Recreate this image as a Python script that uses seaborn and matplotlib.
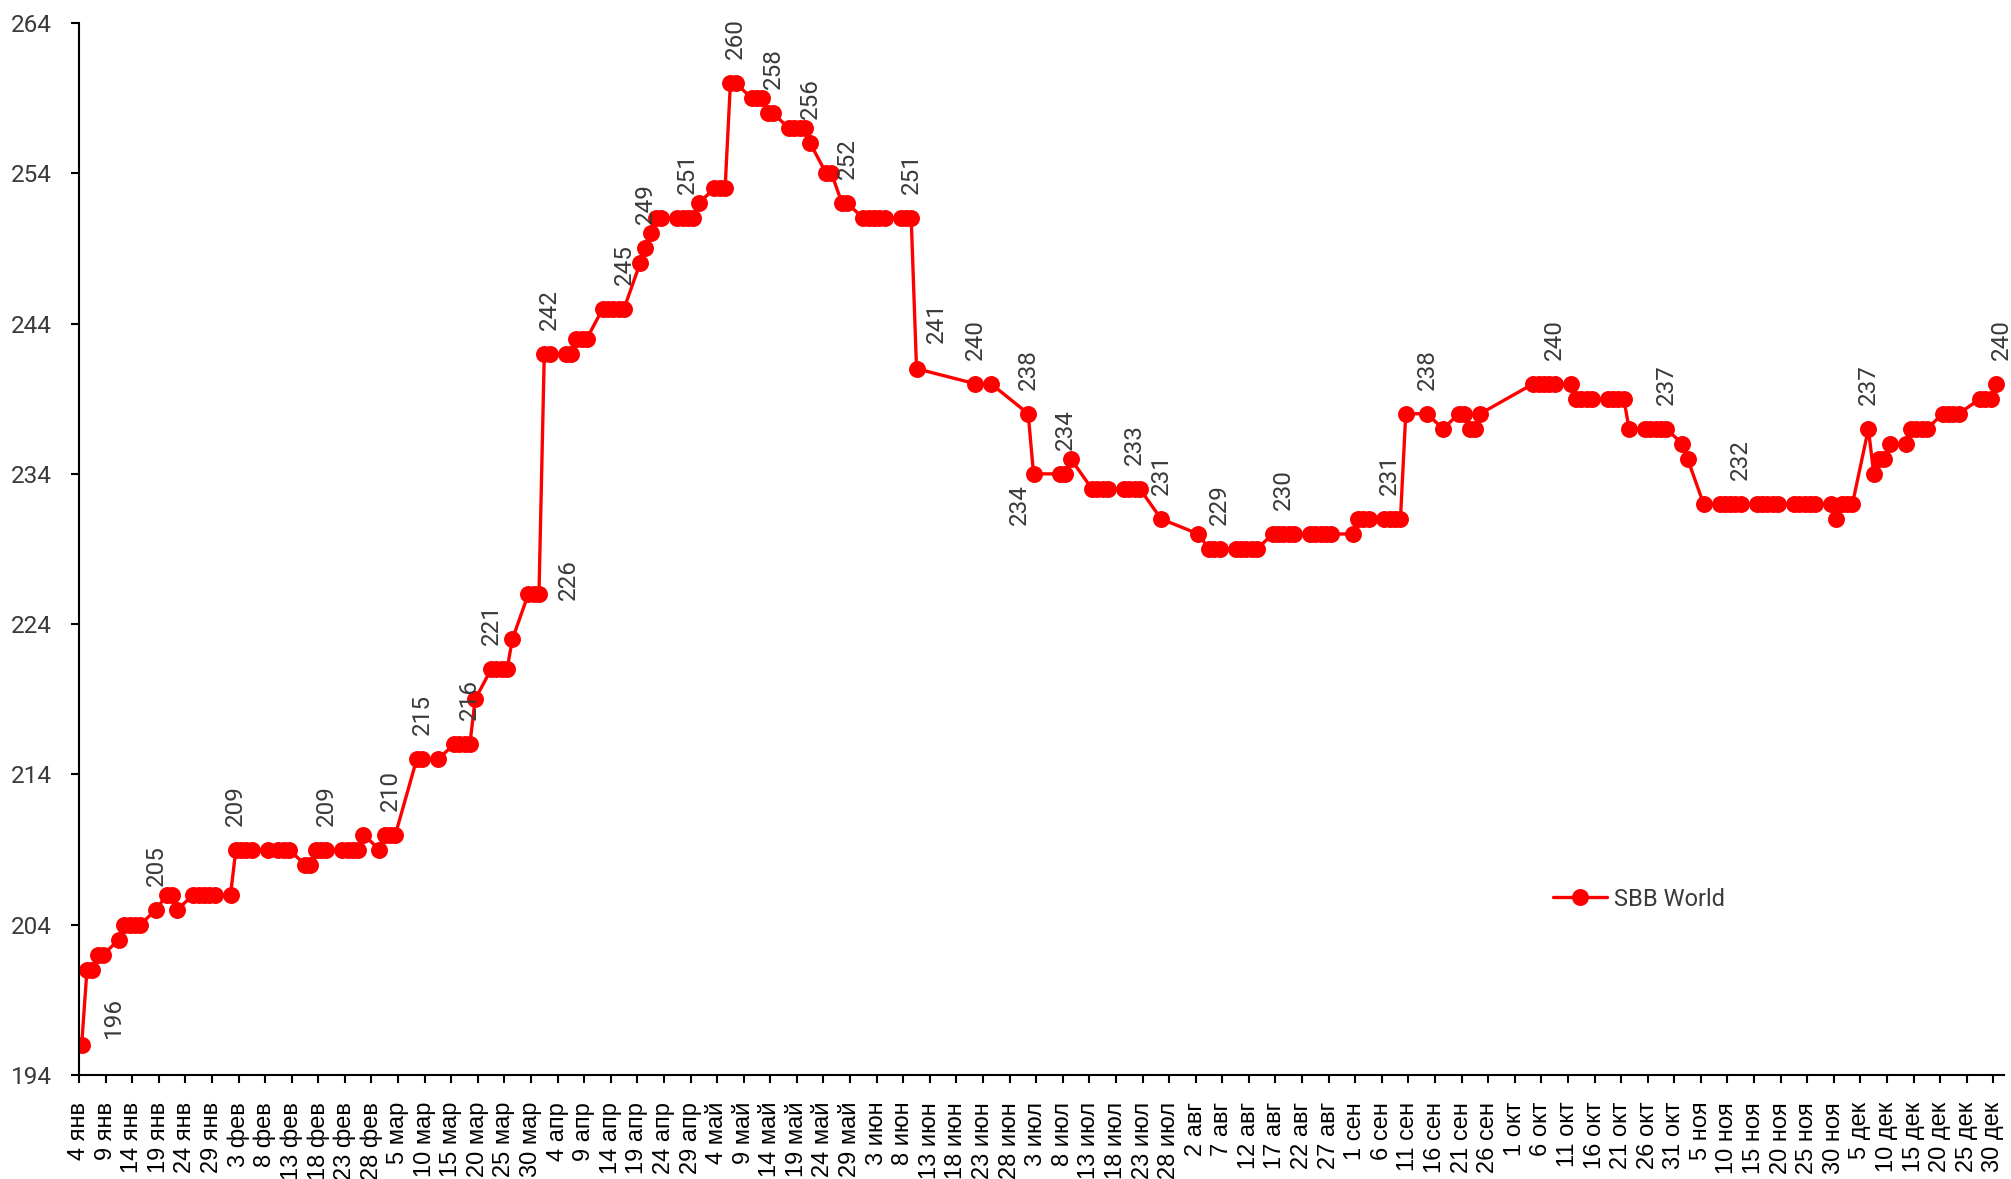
import pandas as pd
import matplotlib
matplotlib.use("Agg")
import matplotlib.pyplot as plt
import seaborn as sns

# ---------------- data ----------------
dates = [
    "2010-01-04", "2010-01-05", "2010-01-06", "2010-01-07", "2010-01-08", "2010-01-11", "2010-01-12",
    "2010-01-13", "2010-01-14", "2010-01-15", "2010-01-18", "2010-01-20", "2010-01-21", "2010-01-22",
    "2010-01-25", "2010-01-26", "2010-01-27", "2010-01-28", "2010-01-29", "2010-02-01", "2010-02-02",
    "2010-02-03", "2010-02-04", "2010-02-05", "2010-02-08", "2010-02-10", "2010-02-11", "2010-02-12",
    "2010-02-15", "2010-02-16", "2010-02-17", "2010-02-18", "2010-02-19", "2010-02-22", "2010-02-23",
    "2010-02-24", "2010-02-25", "2010-02-26", "2010-03-01", "2010-03-02", "2010-03-03", "2010-03-04",
    "2010-03-08", "2010-03-09", "2010-03-12", "2010-03-15", "2010-03-16", "2010-03-17", "2010-03-18",
    "2010-03-19", "2010-03-22", "2010-03-23", "2010-03-24", "2010-03-25", "2010-03-26", "2010-03-29",
    "2010-03-30", "2010-03-31", "2010-04-01", "2010-04-02", "2010-04-05", "2010-04-06", "2010-04-07",
    "2010-04-08", "2010-04-09", "2010-04-12", "2010-04-13", "2010-04-14", "2010-04-15", "2010-04-16",
    "2010-04-19", "2010-04-20", "2010-04-21", "2010-04-22", "2010-04-23", "2010-04-26", "2010-04-27",
    "2010-04-28", "2010-04-29", "2010-04-30", "2010-05-03", "2010-05-04", "2010-05-05", "2010-05-06",
    "2010-05-07", "2010-05-10", "2010-05-11", "2010-05-12", "2010-05-13", "2010-05-14", "2010-05-17",
    "2010-05-18", "2010-05-19", "2010-05-20", "2010-05-21", "2010-05-24", "2010-05-25", "2010-05-27",
    "2010-05-28", "2010-05-31", "2010-06-01", "2010-06-02", "2010-06-03", "2010-06-04", "2010-06-07",
    "2010-06-08", "2010-06-09", "2010-06-10", "2010-06-21", "2010-06-24", "2010-07-01", "2010-07-02",
    "2010-07-07", "2010-07-08", "2010-07-09", "2010-07-13", "2010-07-14", "2010-07-15", "2010-07-16",
    "2010-07-19", "2010-07-20", "2010-07-21", "2010-07-22", "2010-07-26", "2010-08-02", "2010-08-04",
    "2010-08-05", "2010-08-06", "2010-08-09", "2010-08-10", "2010-08-11", "2010-08-12", "2010-08-13",
    "2010-08-16", "2010-08-17", "2010-08-18", "2010-08-19", "2010-08-20", "2010-08-23", "2010-08-24",
    "2010-08-25", "2010-08-26", "2010-08-27", "2010-08-31", "2010-09-01", "2010-09-02", "2010-09-03",
    "2010-09-06", "2010-09-07", "2010-09-08", "2010-09-09", "2010-09-10", "2010-09-14", "2010-09-17",
    "2010-09-20", "2010-09-21", "2010-09-22", "2010-09-23", "2010-09-24", "2010-10-04", "2010-10-05",
    "2010-10-06", "2010-10-07", "2010-10-08", "2010-10-11", "2010-10-12", "2010-10-13", "2010-10-14",
    "2010-10-15", "2010-10-18", "2010-10-19", "2010-10-20", "2010-10-21", "2010-10-22", "2010-10-25",
    "2010-10-26", "2010-10-27", "2010-10-28", "2010-10-29", "2010-11-01", "2010-11-02", "2010-11-05",
    "2010-11-08", "2010-11-09", "2010-11-10", "2010-11-11", "2010-11-12", "2010-11-15", "2010-11-16",
    "2010-11-17", "2010-11-18", "2010-11-19", "2010-11-22", "2010-11-23", "2010-11-24", "2010-11-25",
    "2010-11-26", "2010-11-29", "2010-11-30", "2010-12-01", "2010-12-02", "2010-12-03", "2010-12-06",
    "2010-12-07", "2010-12-08", "2010-12-09", "2010-12-10", "2010-12-13", "2010-12-14", "2010-12-15",
    "2010-12-16", "2010-12-17", "2010-12-20", "2010-12-21", "2010-12-22", "2010-12-23", "2010-12-27",
    "2010-12-28", "2010-12-29", "2010-12-30",
]
values = [
    196, 201, 201, 202, 202, 203, 204,
    204, 204, 204, 205, 206, 206, 205,
    206, 206, 206, 206, 206, 206, 209,
    209, 209, 209, 209, 209, 209, 209,
    208, 208, 209, 209, 209, 209, 209,
    209, 209, 210, 209, 210, 210, 210,
    215, 215, 215, 216, 216, 216, 216,
    219, 221, 221, 221, 221, 223, 226,
    226, 226, 242, 242, 242, 242, 243,
    243, 243, 245, 245, 245, 245, 245,
    248, 249, 250, 251, 251, 251, 251,
    251, 251, 252, 253, 253, 253, 260,
    260, 259, 259, 259, 258, 258, 257,
    257, 257, 257, 256, 254, 254, 252,
    252, 251, 251, 251, 251, 251, 251,
    251, 251, 241, 240, 240, 238, 234,
    234, 234, 235, 233, 233, 233, 233,
    233, 233, 233, 233, 231, 230, 229,
    229, 229, 229, 229, 229, 229, 229,
    230, 230, 230, 230, 230, 230, 230,
    230, 230, 230, 230, 231, 231, 231,
    231, 231, 231, 231, 238, 238, 237,
    238, 238, 237, 237, 238, 240, 240,
    240, 240, 240, 240, 239, 239, 239,
    239, 239, 239, 239, 239, 237, 237,
    237, 237, 237, 237, 236, 235, 232,
    232, 232, 232, 232, 232, 232, 232,
    232, 232, 232, 232, 232, 232, 232,
    232, 232, 231, 232, 232, 232, 237,
    234, 235, 235, 236, 236, 237, 237,
    237, 237, 238, 238, 238, 238, 239,
    239, 239, 240,
]
series_name = "SBB World"

# dates that carry a value label
label_dates = [
    "2010-01-04", "2010-01-18", "2010-02-02", "2010-02-19", "2010-03-03", "2010-03-09", "2010-03-18",
    "2010-03-22", "2010-03-31", "2010-04-02", "2010-04-16", "2010-04-20", "2010-04-28", "2010-05-07",
    "2010-05-14", "2010-05-21", "2010-05-28", "2010-06-09", "2010-06-10", "2010-06-21", "2010-07-01",
    "2010-07-02", "2010-07-08", "2010-07-21", "2010-07-26", "2010-08-06", "2010-08-18", "2010-09-07",
    "2010-09-14", "2010-10-08", "2010-10-29", "2010-11-12", "2010-12-06", "2010-12-30",
]

ru_months = ["янв", "фев", "мар", "апр", "май", "июн", "июл", "авг", "сен", "окт", "ноя", "дек"]
tick_start, tick_end, tick_step = "2010-01-04", "2010-12-30", "5D"
y_ticks = [194, 204, 214, 224, 234, 244, 254, 264]

# ---------------- style ----------------
# label placement tweaks (pixels): default is centred just above the point
label_special = {
    "2010-01-04": (32, 7, "bottom"),
    "2010-03-31": (29, -6, "bottom"),
    "2010-06-10": (20, 26, "bottom"),
    "2010-07-02": (-14, -10, "top"),
    "2010-12-30": (5, 24, "bottom"),
}
label_default = (0, 24, "bottom")

RED = "#FF0000"
GREY = "#3A3A3A"
LABEL_FONT = ["Roboto", "DejaVu Sans"]

sns.set_theme(style="white")
plt.rcParams["font.family"] = ["Liberation Sans", "DejaVu Sans"]

df = pd.DataFrame({"date": pd.to_datetime(dates), "value": values})
# the category-style date axis puts each point in the middle of its day
df["xpos"] = df["date"] + pd.Timedelta(hours=12)

fig = plt.figure(figsize=(20.11, 11.79), dpi=100)
ax = fig.add_axes([0.03928, 0.08821, 0.99652 - 0.03928, 0.98049 - 0.08821])

sns.lineplot(data=df, x="xpos", y="value", ax=ax, color=RED, linewidth=2.4,
             marker="o", markersize=12.2, markeredgewidth=0, markeredgecolor=RED,
             estimator=None, sort=True, label=series_name)

ax.set_xlim(pd.Timestamp("2010-01-04"), pd.Timestamp("2011-01-01"))
ax.set_ylim(194, 264)
ax.set_xlabel("")
ax.set_ylabel("")

ticks = pd.date_range(tick_start, tick_end, freq=tick_step)
ax.set_xticks(ticks)
ax.set_xticklabels([f"{d.day} {ru_months[d.month - 1]}" for d in ticks],
                   rotation=90, fontsize=17, color="black",
                   family=["Liberation Sans", "DejaVu Sans"])
ax.set_yticks(y_ticks)
ax.set_yticklabels([str(v) for v in y_ticks], fontsize=17.5, color=GREY,
                   family=LABEL_FONT, fontweight="normal")

ax.tick_params(axis="both", direction="out", length=5.8, width=1.5, color="black",
               pad=13.5, bottom=True, left=True)
for side in ["top", "right"]:
    ax.spines[side].set_visible(False)
for side in ["left", "bottom"]:
    ax.spines[side].set_color("black")
    ax.spines[side].set_linewidth(1.5)
ax.grid(False)

# value labels
lookup = dict(zip(df["date"], df["xpos"]))
val_lookup = dict(zip(df["date"], df["value"]))
for ds in label_dates:
    d = pd.Timestamp(ds)
    dx, dy, va = label_special.get(ds, label_default)
    ax.annotate(str(val_lookup[d]), xy=(lookup[d], val_lookup[d]),
                xytext=(dx, dy), textcoords="offset pixels",
                rotation=90, ha="center", va=va, fontsize=17.5, color=GREY,
                family=LABEL_FONT, fontweight="normal",
                annotation_clip=False)

leg = ax.legend(loc="center left", bbox_to_anchor=(0.7656, 0.1673), frameon=False,
                borderaxespad=0, borderpad=0, handlelength=2.3, handletextpad=0.3,
                prop={"family": LABEL_FONT, "size": 17, "weight": "normal"})
for t in leg.get_texts():
    t.set_color(GREY)

fig.savefig("out.png", dpi=100)
